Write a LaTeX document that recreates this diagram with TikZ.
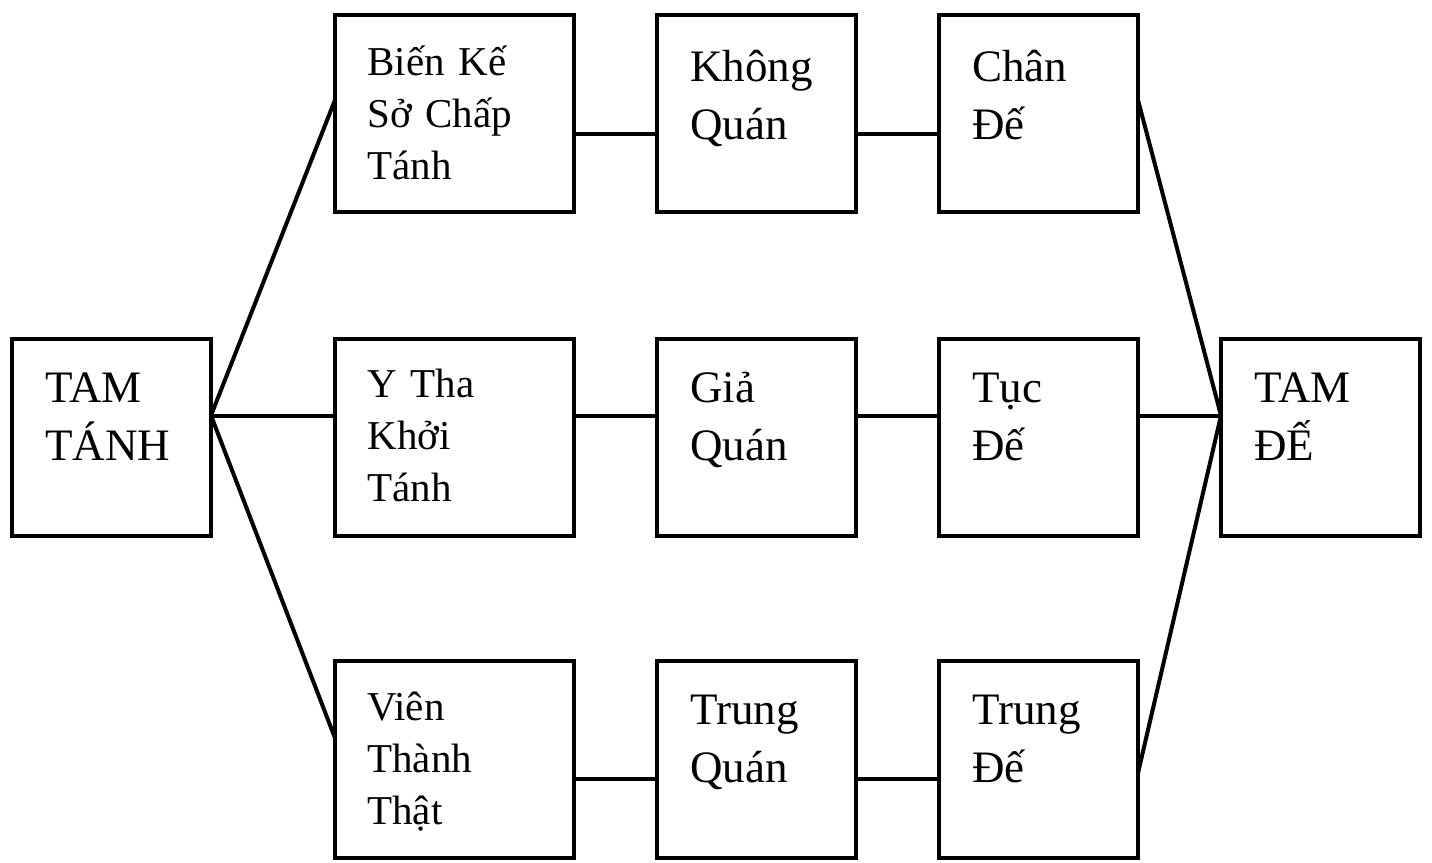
\documentclass[tikz,border=0pt]{standalone}
\usepackage{fontspec}
\setmainfont{Liberation Serif}
\usetikzlibrary{calc}
\begin{document}
\begin{tikzpicture}[x=0.5pt,y=-0.5pt,
  box/.style={draw, line width=2.3pt, minimum width=99.5pt, minimum height=98.5pt, inner sep=0pt, outer sep=0pt},
  widebox/.style={box, minimum width=119.5pt},
  conn/.style={line width=2pt},
  lblthree/.style={anchor=base west, align=left, text width=110pt, inner sep=0pt, font=\fontsize{20.5}{26}\selectfont},
  lbltwo/.style={anchor=base west, align=left, text width=90pt, inner sep=0pt, font=\fontsize{22.5}{29}\selectfont}]
\useasboundingbox (0,0) rectangle (1432,863);
% boxes
\node[box] (tt) at (111.5,437.5) {};
\node[widebox] (a1) at (454.5,113.5) {};
\node[widebox] (a2) at (454.5,437.5) {};
\node[widebox] (a3) at (454.5,759.5) {};
\node[box] (b1) at (756.5,113.5) {};
\node[box] (b2) at (756.5,437.5) {};
\node[box] (b3) at (756.5,759.5) {};
\node[box] (c1) at (1038.5,113.5) {};
\node[box] (c2) at (1038.5,437.5) {};
\node[box] (c3) at (1038.5,759.5) {};
\node[box] (td) at (1320.5,437.5) {};
% texts
\node[lbltwo] (ttl) at ($(tt.north west)+(33,63)$) {TAM\\TÁNH};
\node[lblthree] (a1l) at ($(a1.north west)+(32,60)$) {Biến Kế\\Sở Chấp\\Tánh};
\node[lblthree] (a2l) at ($(a2.north west)+(32,58)$) {Y Tha\\Khởi\\Tánh};
\node[lblthree] (a3l) at ($(a3.north west)+(32,59)$) {Viên\\Thành\\Thật};
\node[lbltwo] (b1l) at ($(b1.north west)+(33,66)$) {Không\\Quán};
\node[lbltwo] (b2l) at ($(b2.north west)+(33,63)$) {Giả\\Quán};
\node[lbltwo] (b3l) at ($(b3.north west)+(33,63)$) {Trung\\Quán};
\node[lbltwo] (c1l) at ($(c1.north west)+(33,66)$) {Chân\\Đế};
\node[lbltwo] (c2l) at ($(c2.north west)+(33,63)$) {Tục\\Đế};
\node[lbltwo] (c3l) at ($(c3.north west)+(33,63)$) {Trung\\Đế};
\node[lbltwo] (tdl) at ($(td.north west)+(33,63)$) {TAM\\ĐẾ};
% connectors
\coordinate (tte) at ($(tt.east)+(0,-22)$);
\coordinate (tdw) at ($(td.west)+(0,-22)$);
\draw[conn] (tte) -- (a1.west |- 0,100);
\draw[conn] (tte) -- (a2.west |- tte);
\draw[conn] (tte) -- (a3.west |- 0,738);
\draw[conn] (a1.east |- 0,134) -- (b1.west |- 0,134);
\draw[conn] (b1.east |- 0,134) -- (c1.west |- 0,134);
\draw[conn] (a2.east |- tte) -- (b2.west |- tte);
\draw[conn] (b2.east |- tte) -- (c2.west |- tte);
\draw[conn] (c2.east |- tte) -- (tdw);
\draw[conn] (a3.east |- 0,779) -- (b3.west |- 0,779);
\draw[conn] (b3.east |- 0,779) -- (c3.west |- 0,779);
\draw[conn] (c1.east |- 0,100) -- (tdw);
\draw[conn] (c3.east |- 0,773) -- (tdw);
\end{tikzpicture}
\end{document}
